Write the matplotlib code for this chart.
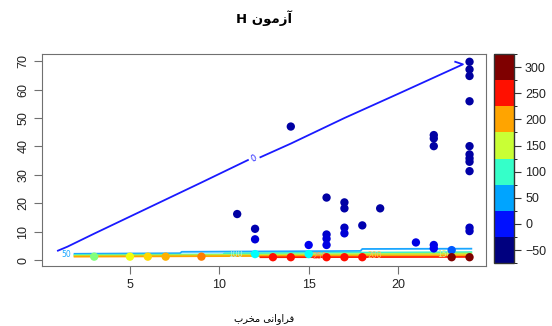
import numpy as np
import matplotlib
matplotlib.use('Agg')
import matplotlib.pyplot as plt
from matplotlib.colors import LinearSegmentedColormap, ListedColormap, BoundaryNorm, Normalize
from matplotlib.cm import ScalarMappable

# Arabic text written in visual order with presentation forms (no shaping engine here)
title_txt = 'H \uFEE5\uFEEE\uFEE3\uFEAF\uFE81'            # آزمون H
xlabel_txt = '\uFE8F\uFEAE\uFEA8\uFEE3 \uFBFD\uFEE7\uFE8D\uFEED\uFE8D\uFEAE\uFED3'  # فراوانی مخرب

# points: x, y, colour value
px = [14, 11, 12, 12, 16, 17, 17, 17, 17, 16, 16, 16, 18, 19, 15, 21, 22, 22,
      22, 22, 22, 24, 24, 24, 24, 24, 24, 24, 24, 24, 24, 24, 23,
      3, 5, 6, 7, 9, 12, 13, 14, 15, 16, 17, 18, 23, 24]
py = [47, 16.2, 11.0, 7.3, 22, 20.3, 18.2, 11.4, 9.4, 9.0, 7.5, 5.3, 12.2, 18.2, 5.3, 6.2, 5.3, 4.1,
      44, 42.8, 40.1, 69.8, 67.1, 64.8, 55.9, 40.1, 37.2, 35.8, 34.6, 31.3, 11.4, 10.2, 3.5,
      1.2, 1.2, 1.2, 1.2, 1.2, 2.1, 1.0, 1.0, 2.1, 1.0, 1.0, 1.0, 1.0, 1.0]
pz = [-60, -60, -55, -40, -60, -60, -58, -50, -40, -45, -40, -35, -55, -60, -30, -35, -35, -30,
      -60, -60, -60, -62, -62, -62, -60, -60, -60, -60, -60, -58, -50, -50, 10,
      125, 170, 190, 205, 225, 75, 270, 270, 75, 270, 270, 270, 325, 325]

# contour lines (level, x, y)
c0_x1 = [0.97, 1.5, 3, 6, 9, 11.6]
c0_y1 = [3.3, 4.7, 9.3, 18.3, 27.3, 35.2]
c0_x2 = [12.3, 14, 17, 20, 23.63, 23.2]
c0_y2 = [36.2, 41.0, 50.0, 58.5, 68.9, 69.8]
c50_x = [1.9, 7.8, 7.9, 17.9, 18.0, 24.1]
c50_y = [2.2, 2.4, 2.9, 3.2, 3.9, 4.0]
c100_x = [1.9, 10.2, 10.3, 24.1]
c100_y = [1.8, 2.0, 2.4, 2.8]
c150_x = [1.9, 24.1]
c150_y = [1.5, 2.3]
c200_x = [1.9, 24.1]
c200_y = [1.2, 1.7]
c250_x = [12.3, 24.1]
c250_y = [1.0, 1.1]

cbar_bounds = [-75, -25, 25, 75, 125, 175, 225, 275, 325]
cbar_ticks = [-50, 0, 50, 100, 150, 200, 250, 300]

jet = LinearSegmentedColormap.from_list('jet_r', ['#00007F', '#0000FF', '#007FFF', '#00FFFF',
                                                  '#7FFF7F', '#FFFF00', '#FF7F00', '#FF0000', '#7F0000'])
box_cols = [jet(i / 7.0) for i in range(8)]

fig = plt.figure(figsize=(5.52, 3.26), dpi=100)
ax = fig.add_axes([0.0761, 0.184, 0.8043, 0.650])
cax = fig.add_axes([0.895, 0.193, 0.036, 0.641])

# contour lines
lc = ['#1a1aff', '#1aa6ff', '#40f0c8', '#b8f040', '#ffa500', '#ff2000']
ax.plot(c0_x1, c0_y1, color=lc[0], lw=1.3)
ax.plot(c0_x2, c0_y2, color=lc[0], lw=1.3)
ax.plot(c50_x, c50_y, color=lc[1], lw=1.3)
ax.plot(c100_x, c100_y, color=lc[2], lw=1.3)
ax.plot(c150_x, c150_y, color=lc[3], lw=1.3)
ax.plot(c200_x, c200_y, color=lc[4], lw=1.3)
ax.plot(c250_x, c250_y, color=lc[5], lw=1.3)

ax.text(11.95, 35.7, '0', color=lc[0], fontsize=6, rotation=25, ha='center', va='center')
ax.text(1.45, 1.9, '50', color=lc[1], fontsize=5.5, ha='center', va='center')
ax.text(10.9, 2.1, '100', color='#b0f0e0', fontsize=5.5, ha='center', va='center')
ax.text(15.6, 1.2, '250', color='#ff9070', fontsize=5.5, ha='center', va='center')
ax.text(18.7, 1.6, '200', color='#ffc060', fontsize=5.5, ha='center', va='center')
ax.text(22.6, 2.0, '150', color='#e0f080', fontsize=5.5, ha='center', va='center')

# points
ax.scatter(px, py, c=pz, cmap=jet, norm=Normalize(-75, 325), s=36, linewidths=0, zorder=3)

ax.set_xlim(0.08, 24.92)
ax.set_ylim(-2.1, 72.5)
ax.set_xticks([5, 10, 15, 20])
ax.set_yticks([0, 10, 20, 30, 40, 50, 60, 70])
for s in ax.spines.values():
    s.set_color('#707070')
ax.tick_params(length=6, color='#707070', labelsize=9, labelcolor='#222222', pad=3)
for t in ax.get_xticklabels() + ax.get_yticklabels():
    t.set_family('Liberation Sans')
plt.setp(ax.get_yticklabels(), rotation=90, va='center')

fig.text(0.479, 0.945, title_txt, fontsize=9.5, fontweight='bold', ha='center', va='center',
         family='DejaVu Sans')
fig.text(0.479, 0.006, xlabel_txt, fontsize=7, ha='center', va='bottom', family='DejaVu Sans')

# colour key
cb = fig.colorbar(ScalarMappable(norm=BoundaryNorm(cbar_bounds, 8), cmap=ListedColormap(box_cols)),
                  cax=cax, ticks=cbar_ticks)
cb.outline.set_color('#333333')
cb.outline.set_linewidth(1)
cax.tick_params(length=5, color='#333333', labelsize=9, labelcolor='#222222', pad=3)
for t in cax.get_yticklabels():
    t.set_family('Liberation Sans')

fig.savefig('out.png', dpi=100)
